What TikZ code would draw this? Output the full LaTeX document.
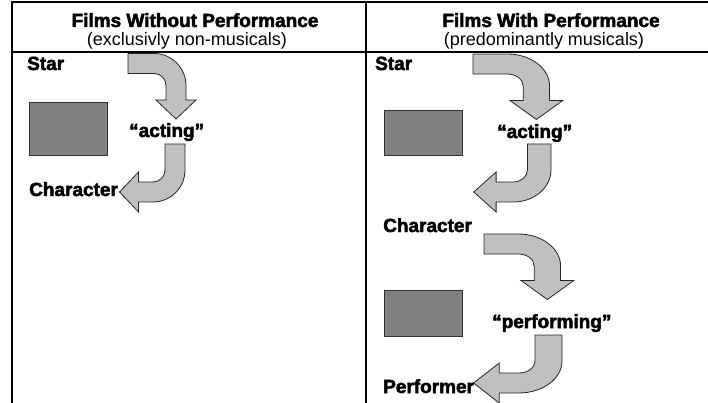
\documentclass[tikz,border=0pt]{standalone}
\usepackage{fontspec}
\setmainfont{Liberation Sans}
\newfontfamily\heavy{Liberation Sans}[BoldFeatures={FakeBold=2.6}]
\definecolor{arrgray}{HTML}{C0C0C0}
\definecolor{blockgray}{HTML}{808080}
\newcommand\bentshape{(0,0) -- (26,0) .. controls (43.67,0) and (58,14.33) .. (58,32) -- (58,46.5) -- (68,46.5) -- (48,65.5) -- (28,46.5) -- (38,46.5) -- (38,32) .. controls (38,25.37) and (32.63,20) .. (26,20) -- (0,20) -- cycle}
\begin{document}
\begin{tikzpicture}[x=1pt,y=-1pt,
  rule/.style={line width=1.5pt, black},
  bentarr/.style={fill=arrgray, draw=black!85, line width=0.8pt, line join=miter},
  block/.style={fill=blockgray, draw=black!80, line width=0.8pt, inner sep=0pt},
  head/.style={font=\heavy\bfseries\fontsize{19}{22}\selectfont, inner sep=0pt, anchor=base},
  sub/.style={font=\fontsize{18}{21}\selectfont, inner sep=0pt, anchor=base},
  lab/.style={font=\heavy\bfseries\fontsize{19}{22}\selectfont, inner sep=0pt, anchor=base west},
]
\useasboundingbox (0,0) rectangle (708,403);
% table rules
\draw[rule] (12,403) -- (12,2) -- (708,2);
\draw[rule] (12,52) -- (708,52);
\draw[rule] (366,2) -- (366,403);
% headers
\node[head] (t1) at (195,27) {Films Without Performance};
\node[sub] (s1) at (187,46) {(exclusivly non-musicals)};
\node[head] (t2) at (551,27) {Films With Performance};
\node[sub] (s2) at (544,46) {(predominantly musicals)};
% boxes
\node[block, minimum width=78pt, minimum height=53pt] (r1) at (68,128.5) {};
\node[block, minimum width=78pt, minimum height=45pt] (r2) at (423,132.5) {};
\node[block, minimum width=78pt, minimum height=46pt] (r3) at (423,313) {};
% labels
\node[lab] (star1) at (27,70) {Star};
\node[lab] (act1) at (129,137) {“acting”};
\node[lab] (char1) at (29,196) {Character};
\node[lab] (star2) at (375,70) {Star};
\node[lab] (act2) at (497,138) {“acting”};
\node[lab] (char2) at (383,232) {Character};
\node[lab] (perf2) at (492,328) {“performing”};
\node[lab] (perf3) at (383,393) {Performer};
% bent arrows
\begin{scope}[shift={(128,53.5)}]
  \draw[bentarr] \bentshape;
\end{scope}
\begin{scope}[shift={(185,144)}, rotate=-90]
  \draw[bentarr] \bentshape;
\end{scope}
\begin{scope}[shift={(473,54)}, xscale=1.32]
  \draw[bentarr] \bentshape;
\end{scope}
\begin{scope}[shift={(551,144)}, xscale=1.18, rotate=-90]
  \draw[bentarr] \bentshape;
\end{scope}
\begin{scope}[shift={(484,234)}, xscale=1.32]
  \draw[bentarr] \bentshape;
\end{scope}
\begin{scope}[shift={(562,335)}, xscale=1.35, rotate=-90]
  \draw[bentarr] \bentshape;
\end{scope}
\end{tikzpicture}
\end{document}
